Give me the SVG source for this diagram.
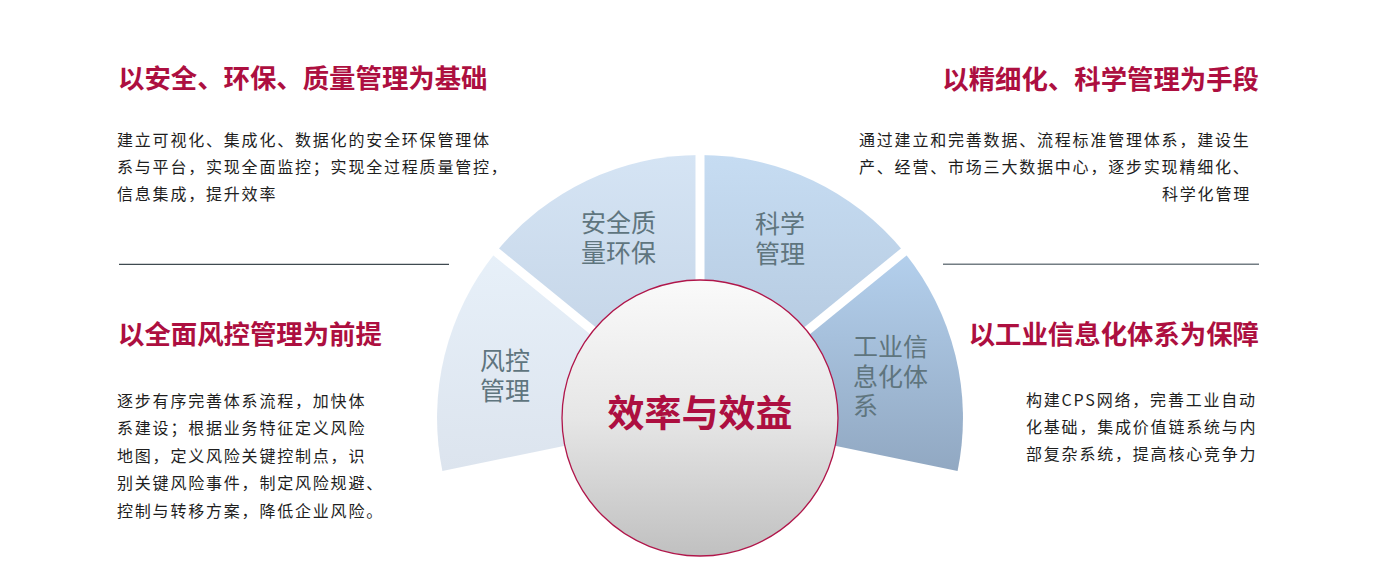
<svg xmlns="http://www.w3.org/2000/svg" width="1380" height="585" viewBox="0 0 1380 585">
<defs>
<linearGradient id="gLeft" x1="0" y1="0" x2="0" y2="1"><stop offset="0" stop-color="#e7f0f9"/><stop offset="1" stop-color="#dce4ee"/></linearGradient>
<linearGradient id="gTopL" x1="0" y1="0" x2="0" y2="1"><stop offset="0" stop-color="#d5e4f4"/><stop offset="1" stop-color="#bfd0e3"/></linearGradient>
<linearGradient id="gTopR" x1="0" y1="0" x2="0" y2="1"><stop offset="0" stop-color="#c6dcf2"/><stop offset="1" stop-color="#b0c4da"/></linearGradient>
<linearGradient id="gRight" x1="0" y1="0" x2="0" y2="1"><stop offset="0" stop-color="#b4d0ed"/><stop offset="1" stop-color="#91a8c2"/></linearGradient>
<linearGradient id="gCircle" x1="0" y1="0" x2="0" y2="1"><stop offset="0" stop-color="#fafafa"/><stop offset="0.5" stop-color="#e6e6e6"/><stop offset="1" stop-color="#c0c0c0"/></linearGradient>
</defs>
<style>
text{font-family:"Noto Sans CJK SC","Noto Sans",sans-serif;}
.h{font-size:26.4px;font-weight:bold;fill:#ad0f40;}
.b{font-size:16px;letter-spacing:1.8px;fill:#1e1e1e;}
.s{font-size:25px;fill:#5f757e;}
.c{font-size:37px;font-weight:bold;fill:#ad0f40;text-anchor:middle;}
.gap{stroke:#ffffff;stroke-width:9;}
</style>
<rect width="1380" height="585" fill="#ffffff"/>

<g id="sector-left">
<path d="M700,418 L496.2,251.8 A263,263 0 0 0 442.4,470.9 Z" fill="url(#gLeft)"/>
<text class="s" x="480" y="370">风控</text>
<text class="s" x="480" y="400">管理</text>
</g>
<g id="sector-top-left">
<path d="M700,418 L700,155 A263,263 0 0 0 496.2,251.8 Z" fill="url(#gTopL)"/>
<text class="s" x="581" y="231.5">安全质</text>
<text class="s" x="581" y="261.5">量环保</text>
</g>
<g id="sector-top-right">
<path d="M700,418 L903.8,251.8 A263,263 0 0 0 700,155 Z" fill="url(#gTopR)"/>
<text class="s" x="755" y="233">科学</text>
<text class="s" x="755" y="263">管理</text>
</g>
<g id="sector-right">
<path d="M700,418 L957.6,470.9 A263,263 0 0 0 903.8,251.8 Z" fill="url(#gRight)"/>
<text class="s" x="853" y="356">工业信</text>
<text class="s" x="853" y="386">息化体</text>
<text class="s" x="853" y="415">系</text>
</g>

<g id="connectors">
<line class="gap" x1="700" y1="418" x2="700" y2="140"/>
<line class="gap" x1="700" y1="418" x2="484" y2="242"/>
<line class="gap" x1="700" y1="418" x2="916" y2="242"/>
<line x1="119" y1="264.3" x2="449" y2="264.3" stroke="#3f4a50" stroke-width="1.2"/>
<line x1="943" y1="264.3" x2="1259" y2="264.3" stroke="#737d83" stroke-width="1.5"/>
</g>

<g id="center">
<circle cx="700" cy="418" r="138" fill="url(#gCircle)" stroke="#b0164a" stroke-width="1.3"/>
<text class="c" x="700" y="427">效率与效益</text>
</g>

<g id="block-top-left">
<text class="h" x="118" y="88">以安全、环保、质量管理为基础</text>
<text class="b" x="117" y="146">建立可视化、集成化、数据化的安全环保管理体</text>
<text class="b" x="117" y="173">系与平台，实现全面监控；实现全过程质量管控，</text>
<text class="b" x="117" y="200">信息集成，提升效率</text>
</g>
<g id="block-top-right">
<text class="h" x="1259" y="89" text-anchor="end">以精细化、科学管理为手段</text>
<text class="b" x="859" y="146">通过建立和完善数据、流程标准管理体系，建设生</text>
<text class="b" x="859" y="173">产、经营、市场三大数据中心，逐步实现精细化、</text>
<text class="b" x="1162" y="200">科学化管理</text>
</g>
<g id="block-bottom-left">
<text class="h" x="118" y="344">以全面风控管理为前提</text>
<text class="b" x="117" y="406.5">逐步有序完善体系流程，加快体</text>
<text class="b" x="117" y="434">系建设；根据业务特征定义风险</text>
<text class="b" x="117" y="461.5">地图，定义风险关键控制点，识</text>
<text class="b" x="117" y="489">别关键风险事件，制定风险规避、</text>
<text class="b" x="117" y="516.5">控制与转移方案，降低企业风险。</text>
</g>
<g id="block-bottom-right">
<text class="h" x="1259" y="344" text-anchor="end">以工业信息化体系为保障</text>
<text class="b" x="1026" y="406">构建CPS网络，完善工业自动</text>
<text class="b" x="1026" y="433">化基础，集成价值链系统与内</text>
<text class="b" x="1026" y="460">部复杂系统，提高核心竞争力</text>
</g>
</svg>
